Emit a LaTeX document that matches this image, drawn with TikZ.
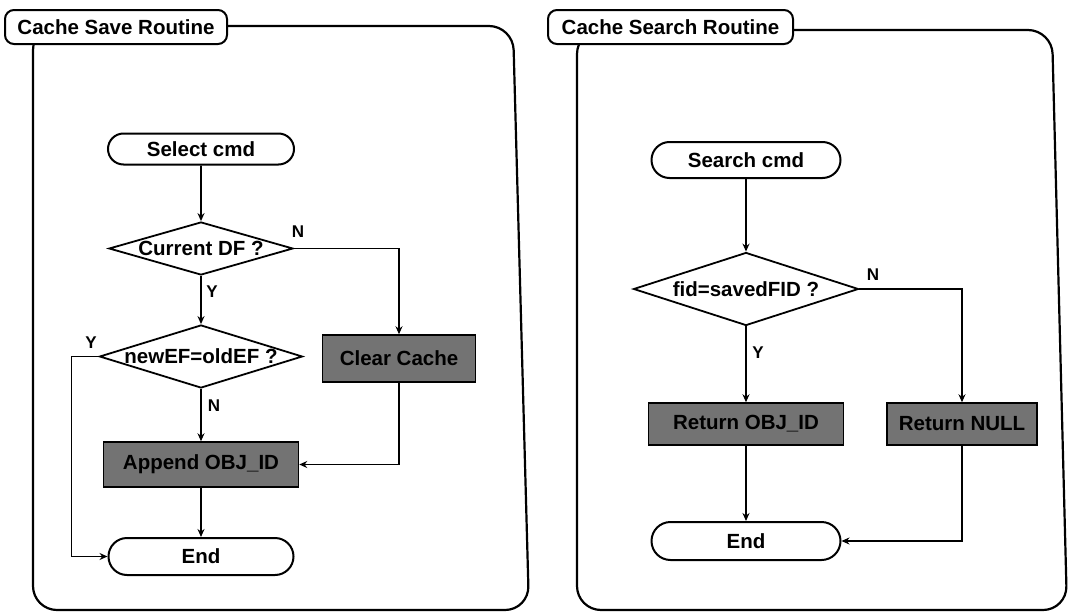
\documentclass[tikz,border=0pt]{standalone}
\usepackage{fontspec}
\setmainfont{Liberation Sans}
\usetikzlibrary{shapes.geometric,shapes.misc,arrows.meta}

\begin{document}
\begin{tikzpicture}[x=1pt,y=-1pt,
  every node/.style={font=\fontsize{20.5}{22}\selectfont\bfseries, inner sep=0pt},
  frame/.style={draw, line width=2.2pt, rounded corners=24pt},
  title/.style={draw, fill=white, line width=2pt, rounded corners=9pt, minimum height=34pt},
  term/.style={draw, rounded rectangle, line width=2pt},
  decision/.style={draw, diamond, line width=1.8pt},
  proc/.style={draw, fill=black!55, line width=1.5pt},
  flow/.style={line width=1.6pt, -{Stealth[length=8pt,width=7pt]}},
  lbl/.style={font=\fontsize{17}{18}\selectfont\bfseries}
]
\useasboundingbox (0,0) rectangle (1071,613);

% panel frames
\draw[frame] (300,26) -- (513,26) -- (529,610) -- (33,610) -- (33,26) -- cycle;
\draw[frame] (820,30) -- (1052,30) -- (1067,610) -- (577,610) -- (577,30) -- cycle;

% panel titles
\node[title, minimum width=222pt] (t1) at (116,27) {Cache Save Routine};
\node[title, minimum width=245pt] (t2) at (670.5,27) {Cache Search Routine};

% ---- cache save routine ----
\node[term, minimum width=186pt, minimum height=31pt] (sel) at (201,149) {Select cmd};
\node[decision, minimum width=184pt, minimum height=53pt] (d1) at (201,248.5) {\makebox[0pt]{Current DF ?}};
\node[decision, minimum width=203pt, minimum height=63pt] (d2) at (201,356.5) {\makebox[0pt]{newEF=oldEF ?}};
\node[proc, minimum width=153pt, minimum height=47pt] (clr) at (399,358.5) {Clear Cache};
\node[proc, minimum width=195pt, minimum height=45pt] (app) at (201,464.5) {Append OBJ\_ID};
\node[term, minimum width=185pt, minimum height=37pt] (end1) at (201,556.5) {End};

\draw[flow] (sel) -- (d1);
\draw[flow] (d1) -- (d2);
\draw[flow] (d1.east) -| (clr.north);
\draw[flow] (d2) -- (app);
\draw[flow] (d2.west) -- ++(-27,0) |- (end1.west);
\draw[flow] (clr.south) |- (app.east);
\draw[flow] (app) -- (end1);

\node[lbl] (n1) at (298,232) {N};
\node[lbl] (y1) at (212,292) {Y};
\node[lbl] (y2) at (91,343) {Y};
\node[lbl] (n2) at (214,406) {N};

% ---- cache search routine ----
\node[term, minimum width=189pt, minimum height=36pt] (srch) at (746,160) {Search cmd};
\node[decision, minimum width=225pt, minimum height=73pt] (d3) at (746,289) {\makebox[0pt]{fid=savedFID ?}};
\node[proc, minimum width=195pt, minimum height=42pt] (robj) at (746,424) {Return OBJ\_ID};
\node[proc, minimum width=150pt, minimum height=42pt] (rnull) at (962,424) {Return NULL};
\node[term, minimum width=189pt, minimum height=38pt] (end2) at (746,541) {End};

\draw[flow] (srch) -- (d3);
\draw[flow] (d3) -- (robj);
\draw[flow] (d3.east) -| (rnull.north);
\draw[flow] (robj) -- (end2);
\draw[flow] (rnull.south) |- (end2.east);

\node[lbl] (n3) at (873,275) {N};
\node[lbl] (y3) at (758,353) {Y};
\end{tikzpicture}
\end{document}
